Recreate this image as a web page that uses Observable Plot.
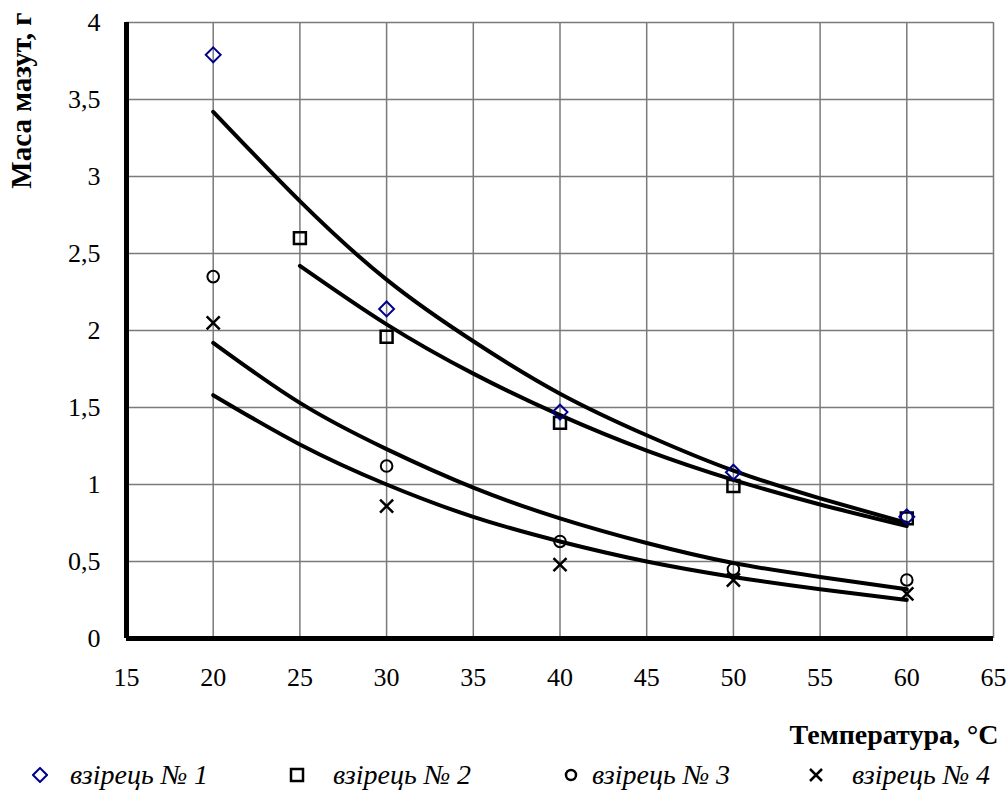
<!DOCTYPE html>
<html><head><meta charset="utf-8">
<script src="https://cdn.jsdelivr.net/npm/d3@7"></script>
<script src="https://cdn.jsdelivr.net/npm/@observablehq/plot@0.6"></script>
<style>
body{margin:0;background:#fff;font-family:"Liberation Serif","Times New Roman",serif;}
#legend{position:relative;width:1008px;height:37px;}
.item{position:absolute;top:1px;height:37px;display:flex;align-items:center;font-style:italic;font-size:28px;color:#000;white-space:nowrap;font-family:"Liberation Serif",serif;}
.item svg{position:absolute;top:11px;}
</style></head><body>
<div id="chart"></div><div id="legend"></div>
<script>
const seriesNames = ["взірець № 1", "взірець № 2", "взірець № 3", "взірець № 4"];
const xTicks = [15, 20, 25, 30, 35, 40, 45, 50, 55, 60, 65];
const yTicks = [0, 0.5, 1, 1.5, 2, 2.5, 3, 3.5, 4];

// measured points
const temp1 = [20, 30, 40, 50, 60];
const mass1 = [3.79, 2.14, 1.47, 1.08, 0.79];
const temp2 = [25, 30, 40, 50, 60];
const mass2 = [2.60, 1.96, 1.40, 0.99, 0.78];
const temp3 = [20, 30, 40, 50, 60];
const mass3 = [2.35, 1.12, 0.63, 0.45, 0.38];
const temp4 = [20, 30, 40, 50, 60];
const mass4 = [2.05, 0.86, 0.48, 0.38, 0.29];

// trend lines
const fitT1 = [20, 25, 30, 35, 40, 45, 50, 55, 60];
const fit1 = [3.42, 2.84, 2.33, 1.93, 1.59, 1.32, 1.09, 0.91, 0.75];
const fitT2 = [25, 30, 35, 40, 45, 50, 55, 60];
const fit2 = [2.42, 2.04, 1.72, 1.45, 1.22, 1.03, 0.87, 0.73];
const fitT3 = [20, 25, 30, 35, 40, 45, 50, 55, 60];
const fit3 = [1.92, 1.53, 1.23, 0.98, 0.78, 0.62, 0.49, 0.40, 0.32];
const fitT4 = [20, 25, 30, 35, 40, 45, 50, 55, 60];
const fit4 = [1.58, 1.26, 1.00, 0.79, 0.63, 0.50, 0.40, 0.32, 0.25];

const pts = (t, m) => t.map((x, i) => ({x, y: m[i]}));
const fits = [[fitT1, fit1], [fitT2, fit2], [fitT3, fit3], [fitT4, fit4]];

const marks = [
  Plot.gridX(xTicks, {stroke: "#7a7a7a", strokeOpacity: 1, strokeWidth: 1.5}),
  Plot.gridY(yTicks, {stroke: "#7a7a7a", strokeOpacity: 1, strokeWidth: 1.5}),
  Plot.axisX(xTicks, {tickSize: 0, tickPadding: 29, fontSize: 26, label: null}),
  Plot.axisY(yTicks, {tickSize: 0, tickPadding: 26, fontSize: 26, label: null,
    tickFormat: d => String(d).replace(".", ",")}),
  ...fits.map(([t, m]) => Plot.line(pts(t, m), {x: "x", y: "y", stroke: "#000", strokeWidth: 4, curve: "natural"})),
  Plot.dot(pts(temp2, mass2), {x: "x", y: "y", symbol: "square2", r: 7.6, stroke: "#000", strokeWidth: 2.5, fill: "none"}),
  Plot.dot(pts(temp3, mass3), {x: "x", y: "y", symbol: "circle", r: 5.8, stroke: "#000", strokeWidth: 2, fill: "none"}),
  Plot.dot(pts(temp4, mass4), {x: "x", y: "y", symbol: "times", r: 6, stroke: "#000", strokeWidth: 2.5}),
  Plot.dot(pts(temp1, mass1), {x: "x", y: "y", symbol: "diamond2", r: 6.7, stroke: "#00008b", strokeWidth: 2, fill: "none"}),
  Plot.ruleY([0], {strokeWidth: 5, stroke: "#000"}),
  Plot.ruleX([15], {strokeWidth: 5, stroke: "#000"}),
  Plot.text(["Маса мазут, г"], {frameAnchor: "top-left", rotate: -90, textAnchor: "end",
    dx: -116, dy: -10, fontSize: 29, fontWeight: "bold"}),
  Plot.text(["Температура, °C"], {frameAnchor: "bottom-right", textAnchor: "end", lineAnchor: "bottom",
    dx: 5, dy: 105, fontSize: 28, fontWeight: "bold"})
];

const chart = Plot.plot({
  width: 1008, height: 755,
  marginLeft: 126, marginRight: 15, marginTop: 22, marginBottom: 117,
  x: {domain: [15, 65]},
  y: {domain: [0, 4]},
  style: {fontFamily: "'Liberation Serif', 'Times New Roman', serif", color: "#000", background: "#fff", overflow: "visible"},
  marks
});
document.getElementById("chart").appendChild(chart);

// legend
const legendSymbols = ["diamond", "square", "circle", "times"];
const symX = [40, 297, 571, 816];
const textX = [70, 333, 592, 852];
const leg = document.getElementById("legend");
seriesNames.forEach((name, i) => {
  const sym = legendSymbols[i];
  let shape = "";
  if (sym === "diamond") shape = `<path d="M8,1L15,8L8,15L1,8Z" fill="none" stroke="#00008b" stroke-width="2"/>`;
  if (sym === "square") shape = `<rect x="2" y="2" width="12" height="12" fill="none" stroke="#000" stroke-width="2.5"/>`;
  if (sym === "circle") shape = `<circle cx="8" cy="8" r="5" fill="none" stroke="#000" stroke-width="2.5"/>`;
  if (sym === "times") shape = `<path d="M2,2L14,14M14,2L2,14" stroke="#000" stroke-width="2.5"/>`;
  const s = document.createElement("div");
  s.className = "item";
  s.style.left = (symX[i] - 8) + "px";
  s.innerHTML = `<svg width="16" height="16">${shape}</svg>`;
  leg.appendChild(s);
  const t = document.createElement("div");
  t.className = "item";
  t.style.left = textX[i] + "px";
  t.textContent = name;
  leg.appendChild(t);
});
</script>
</body></html>
